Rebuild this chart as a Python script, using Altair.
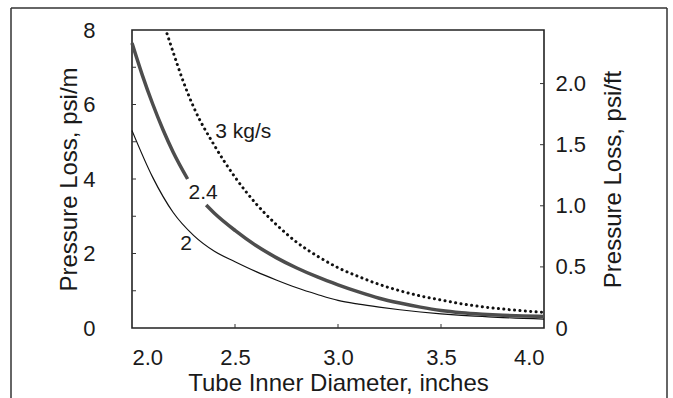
import altair as alt
import pandas as pd

# ---- data ----
# 2 kg/s (thin solid)
x_2 = [2.0, 2.1, 2.2, 2.3, 2.4, 2.5, 2.6, 2.7, 2.8, 2.9, 3.0, 3.1, 3.2, 3.3, 3.4, 3.5, 3.6, 3.7, 3.8, 3.9, 4.0]
y_2 = [5.3, 4.05, 3.1, 2.48, 2.06, 1.78, 1.52, 1.29, 1.08, 0.9, 0.74, 0.64, 0.56, 0.49, 0.43, 0.38, 0.34, 0.31, 0.28, 0.26, 0.24]
# 2.4 kg/s (thick grey, broken around its label)
x_24a = [2.0, 2.05, 2.1, 2.15, 2.2, 2.27]
y_24a = [7.65, 6.79, 6.02, 5.33, 4.72, 4.0]
x_24b = [2.36, 2.4, 2.5, 2.6, 2.7, 2.8, 2.9, 3.0, 3.1, 3.2, 3.3, 3.4, 3.5, 3.6, 3.7, 3.8, 3.9, 4.0]
y_24b = [3.3, 3.08, 2.62, 2.22, 1.89, 1.61, 1.37, 1.16, 0.97, 0.8, 0.67, 0.56, 0.47, 0.41, 0.37, 0.34, 0.32, 0.31]
# 3 kg/s (dotted)
x_3 = [2.17, 2.2, 2.25, 2.3, 2.4, 2.5, 2.6, 2.7, 2.8, 2.9, 3.0, 3.1, 3.2, 3.3, 3.4, 3.5, 3.6, 3.7, 3.8, 3.9, 4.0]
y_3 = [7.9, 7.4, 6.6, 5.92, 4.9, 4.05, 3.35, 2.78, 2.3, 1.93, 1.62, 1.38, 1.17, 1.0, 0.86, 0.75, 0.65, 0.57, 0.51, 0.46, 0.42]

# curve labels
lab_text = ["3 kg/s", "2.4", "2"]
lab_x = [2.54, 2.345, 2.262]
lab_y = [5.26, 3.62, 2.26]

# axes
x_ticks = [2.0, 2.5, 3.0, 3.5, 4.0]
x_inner_ticks = [2.5, 3.0, 3.5]
y_ticks = [0, 2, 4, 6, 8]
y_inner_ticks = [1, 2, 3, 4, 5, 6, 7]
y2_ticks = [0, 0.5, 1.0, 1.5, 2.0]
y2_inner_ticks = [0.5, 1.0, 1.5, 2.0]
PSI_M_TO_PSI_FT = 0.3048

W, H = 412, 298
FONT = "Liberation Sans"
INK = "#1a1a1a"

xs = alt.Scale(domain=[2.0, 4.0], nice=False)
ys = alt.Scale(domain=[0, 8], nice=False)
ys2 = alt.Scale(domain=[0, 8 * PSI_M_TO_PSI_FT], nice=False)

x_axis = alt.Axis(values=x_ticks, format=".1f", ticks=False, tickSize=0, domain=False, grid=False,
                  labelFontSize=22, labelPadding=19, labelColor=INK,
                  title="Tube Inner Diameter, inches", titleFontSize=24, titleFontWeight="normal",
                  titleColor=INK, titlePadding=3)
y_axis = alt.Axis(values=y_ticks, ticks=False, tickSize=0, domain=False, grid=False,
                  labelFontSize=22, labelPadding=37, labelColor=INK,
                  title="Pressure Loss, psi/m", titleFontSize=24, titleFontWeight="normal",
                  titleColor=INK, titlePadding=1)
y2_axis = alt.Axis(values=y2_ticks, orient="right", ticks=False, tickSize=0, domain=False, grid=False,
                   labelFontSize=22, labelPadding=11, labelColor=INK,
                   labelExpr="datum.value == 0 ? '0' : format(datum.value, '.1f')",
                   title="Pressure Loss, psi/ft", titleFontSize=24, titleFontWeight="normal",
                   titleColor=INK, titlePadding=16, titleAngle=270, titleBaseline="top")

df2 = pd.DataFrame({"x": x_2, "y": y_2})
df24 = pd.concat([
    pd.DataFrame({"x": x_24a, "y": y_24a, "seg": "a"}),
    pd.DataFrame({"x": x_24b, "y": y_24b, "seg": "b"}),
])
df3 = pd.DataFrame({"x": x_3, "y": y_3})
dflab = pd.DataFrame({"t": lab_text, "x": lab_x, "y": lab_y})

X = alt.X("x:Q", scale=xs, axis=x_axis)
Y = alt.Y("y:Q", scale=ys, axis=y_axis)

line2 = alt.Chart(df2).mark_line(color="#111", strokeWidth=1.2, interpolate="monotone").encode(x=X, y=Y)
line24 = alt.Chart(df24).mark_line(color="#4d4d4d", strokeWidth=3.5, interpolate="monotone").encode(
    x=X, y=Y, detail="seg:N")
line3 = alt.Chart(df3).mark_line(color="#111", strokeWidth=3, strokeDash=[0.1, 5.3], strokeCap="round",
                                 interpolate="monotone").encode(x=X, y=Y)
labels = alt.Chart(dflab).mark_text(font=FONT, fontSize=21, color=INK, align="center",
                                    baseline="middle").encode(x=X, y=Y, text="t:N")

# inward ticks
xt = alt.Chart(pd.DataFrame({"v": x_inner_ticks})).mark_rule(color="#333", strokeWidth=1).encode(
    x=alt.X("v:Q", scale=xs, axis=x_axis), y=alt.value(H), y2=alt.value(H - 4))
yt = alt.Chart(pd.DataFrame({"v": y_inner_ticks})).mark_rule(color="#333", strokeWidth=1).encode(
    y=alt.Y("v:Q", scale=ys, axis=y_axis), x=alt.value(0), x2=alt.value(4))

left = alt.layer(line2, line24, line3, labels, xt, yt)

y2t = alt.Chart(pd.DataFrame({"v": y2_inner_ticks})).mark_rule(color="#333", strokeWidth=1).encode(
    y=alt.Y("v:Q", scale=ys2, axis=y2_axis), x=alt.value(W - 4), x2=alt.value(W))

# outer figure frame
frame = alt.Chart(pd.DataFrame({"k": ["l"]})).mark_rule(color="#333", strokeWidth=1.5).encode(
    x=alt.value(-121), x2=alt.value(-121), y=alt.value(-22), y2=alt.value(380))
frame_t = alt.Chart(pd.DataFrame({"k": ["t"]})).mark_rule(color="#333", strokeWidth=1.5).encode(
    x=alt.value(-121), x2=alt.value(535), y=alt.value(-22), y2=alt.value(-22))
frame_r = alt.Chart(pd.DataFrame({"k": ["r"]})).mark_rule(color="#333", strokeWidth=1.5).encode(
    x=alt.value(535), x2=alt.value(535), y=alt.value(-22), y2=alt.value(380))

chart = alt.layer(left, y2t, frame, frame_t, frame_r).resolve_scale(y="independent").properties(
    width=W, height=H,
    autosize=alt.AutoSizeParams(type="none"),
    padding={"left": 132, "top": 30, "right": 129, "bottom": 70},
).configure(font=FONT).configure_view(stroke="#222", strokeWidth=1.6).configure_axis(
    labelFont=FONT, titleFont=FONT)

chart.save("out.html", embed_options={"renderer": "svg", "actions": False})
